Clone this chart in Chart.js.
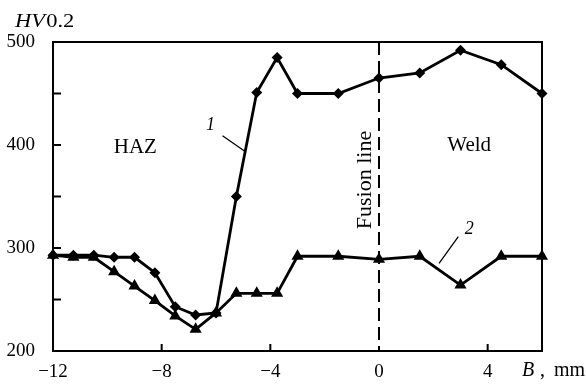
<!DOCTYPE html>
<html>
<head>
<meta charset="utf-8">
<script src="https://cdn.jsdelivr.net/npm/chart.js@4.4.0/dist/chart.umd.min.js"></script>
<style>
  html, body { margin: 0; padding: 0; background: #fff; }
  canvas { display: block; }
</style>
</head>
<body>
<canvas id="chart" width="586" height="389"></canvas>
<script>
// distance from fusion line, mm
const distance = [-12, -11.25, -10.5, -9.75, -9, -8.25, -7.5, -6.75, -6, -5.25, -4.5, -3.75, -3, -1.5, 0, 1.5, 3, 4.5, 6];
// curve 1 (diamonds) and curve 2 (triangles), HV0.2
const hv1 = [293, 293, 293, 291, 291, 276, 243, 235, 237, 350, 451, 485, 450, 450, 465, 470, 492, 478, 450];
const hv2 = [293, 291, 291, 277, 263, 249, 234, 221, 237, 256, 256, 256, 292, 292, 289, 292, 264, 292, 292];

const xTicks = [-12, -8, -4, 0, 4];
const xTickMarks = [-8, -4, 4];
const yTicks = [200, 300, 400, 500];
const yTickMarks = [250, 300, 350, 400, 450];

const serif = "'Liberation Serif', 'DejaVu Serif', serif";

const fmt = v => (v < 0 ? '\u2212' + Math.abs(v) : String(v));

// frame, inward ticks, fusion line and the text notes
const decorations = {
  id: 'decorations',
  beforeDatasetsDraw(chart) {
    const { ctx, chartArea: a, scales: { x, y } } = chart;
    ctx.save();
    ctx.strokeStyle = '#000';
    ctx.lineWidth = 2;
    ctx.strokeRect(a.left, a.top, a.right - a.left, a.bottom - a.top);

    ctx.beginPath();
    yTickMarks.forEach(v => {
      const py = y.getPixelForValue(v);
      ctx.moveTo(a.left, py);
      ctx.lineTo(a.left + 8, py);
    });
    xTickMarks.forEach(v => {
      const px = x.getPixelForValue(v);
      ctx.moveTo(px, a.bottom);
      ctx.lineTo(px, a.bottom - 7);
    });
    ctx.stroke();

    // fusion line
    const x0 = x.getPixelForValue(0);
    ctx.setLineDash([13, 6]);
    ctx.beginPath();
    ctx.moveTo(x0, a.top);
    ctx.lineTo(x0, a.bottom);
    ctx.stroke();
    ctx.restore();
  },
  afterDraw(chart) {
    const { ctx, scales: { x, y } } = chart;
    ctx.save();
    ctx.fillStyle = '#000';
    ctx.strokeStyle = '#000';

    ctx.font = '21px ' + serif;
    ctx.textAlign = 'center';
    ctx.textBaseline = 'middle';
    ctx.fillText('HAZ', x.getPixelForValue(-8.97), y.getPixelForValue(398));
    ctx.fillText('Weld', x.getPixelForValue(3.32), y.getPixelForValue(400));

    ctx.save();
    ctx.font = '22px ' + serif;
    ctx.translate(x.getPixelForValue(-0.5), y.getPixelForValue(366));
    ctx.rotate(-Math.PI / 2);
    ctx.fillText('Fusion line', 0, 0);
    ctx.restore();

    // curve labels with leader lines
    ctx.font = 'italic 18px ' + serif;
    ctx.fillText('1', x.getPixelForValue(-6.2), y.getPixelForValue(419));
    ctx.fillText('2', x.getPixelForValue(3.32), y.getPixelForValue(318));
    ctx.lineWidth = 1.3;
    ctx.beginPath();
    ctx.moveTo(x.getPixelForValue(-5.76), y.getPixelForValue(409));
    ctx.lineTo(x.getPixelForValue(-4.94), y.getPixelForValue(394));
    ctx.moveTo(x.getPixelForValue(2.92), y.getPixelForValue(311));
    ctx.lineTo(x.getPixelForValue(2.21), y.getPixelForValue(285));
    ctx.stroke();

    // axis titles (the original lettering is set wide)
    ctx.textAlign = 'left';
    ctx.textBaseline = 'alphabetic';
    ctx.save();
    ctx.translate(15, 27);
    ctx.scale(1.25, 1);
    ctx.font = 'italic 18px ' + serif;
    ctx.fillText('HV', 0, 0);
    const w = ctx.measureText('HV').width;
    ctx.font = '18px ' + serif;
    ctx.fillText('0.2', w + 1, 0);
    ctx.restore();

    ctx.font = 'italic 20px ' + serif;
    ctx.fillText('B', 522, 376);
    ctx.font = '20px ' + serif;
    ctx.fillText(',', 540, 376);
    ctx.fillText('mm', 554, 376);
    ctx.restore();
  }
};

const ctx = document.getElementById('chart').getContext('2d');
new Chart(ctx, {
  type: 'scatter',
  data: {
    datasets: [
      {
        label: '1',
        data: distance.map((d, i) => ({ x: d, y: hv1[i] })),
        showLine: true,
        borderColor: '#000',
        backgroundColor: '#000',
        borderWidth: 2.8,
        pointStyle: 'rectRot',
        pointRadius: 5.5,
        pointBorderWidth: 0,
        clip: false
      },
      {
        label: '2',
        data: distance.map((d, i) => ({ x: d, y: hv2[i] })),
        showLine: true,
        borderColor: '#000',
        backgroundColor: '#000',
        borderWidth: 2.8,
        pointStyle: 'triangle',
        pointRadius: 7,
        pointBorderWidth: 0,
        clip: false
      }
    ]
  },
  options: {
    responsive: false,
    animation: false,
    layout: { padding: { top: 42, right: 44, left: 0, bottom: 0 } },
    plugins: { legend: { display: false }, tooltip: { enabled: false } },
    scales: {
      x: {
        type: 'linear',
        min: -12,
        max: 6,
        afterBuildTicks: s => { s.ticks = xTicks.map(v => ({ value: v })); },
        afterFit: s => { s.height = 38; },
        grid: { display: false, drawTicks: false },
        border: { display: false },
        ticks: {
          padding: 10,
          color: '#000',
          font: { family: serif, size: 19 },
          maxRotation: 0,
          callback: v => fmt(v)
        }
      },
      y: {
        min: 200,
        max: 500,
        afterBuildTicks: s => { s.ticks = yTicks.map(v => ({ value: v })); },
        afterFit: s => { s.width = 53; },
        grid: { display: false, drawTicks: false },
        border: { display: false },
        ticks: {
          padding: 18,
          color: '#000',
          font: { family: serif, size: 19 },
          callback: v => String(v)
        }
      }
    }
  },
  plugins: [decorations]
});
</script>
</body>
</html>
